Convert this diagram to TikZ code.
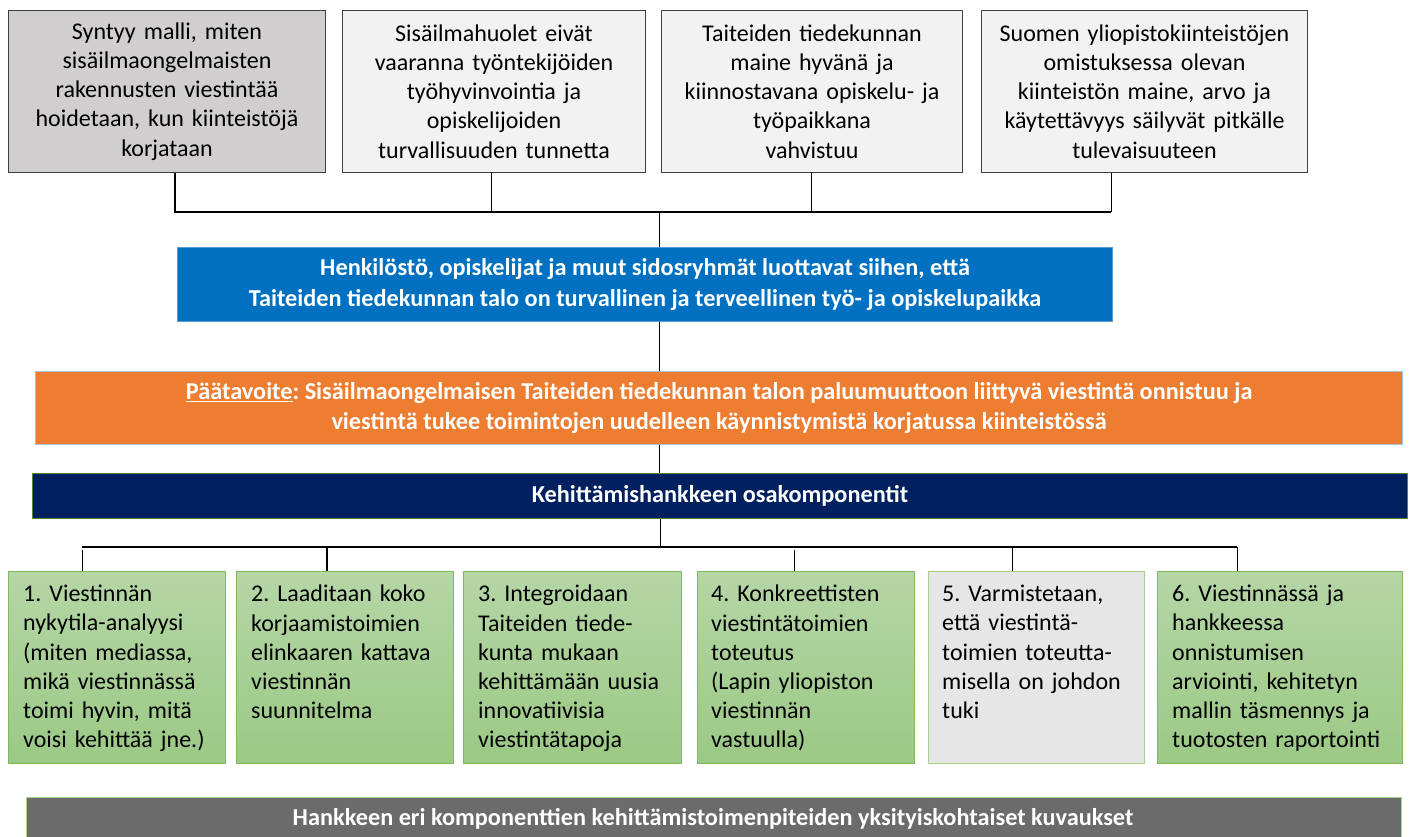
\documentclass[tikz,border=0pt]{standalone}
\usepackage{fontspec}
\setmainfont{Carlito}
\frenchspacing
\definecolor{topgray}{HTML}{D0CECE}
\definecolor{toplight}{HTML}{F2F2F2}
\definecolor{topborder}{HTML}{404040}
\definecolor{bluefill}{HTML}{0070C0}
\definecolor{blueborder}{HTML}{5B9BD5}
\definecolor{orangefill}{HTML}{ED7D31}
\definecolor{orangeborder}{HTML}{9DC3E6}
\definecolor{navyfill}{HTML}{002060}
\definecolor{navyborder}{HTML}{548235}
\definecolor{greentop}{HTML}{B5D6A6}
\definecolor{greenbot}{HTML}{9BC985}
\definecolor{greenborder}{HTML}{7FB95E}
\definecolor{lightgreenborder}{HTML}{A9D18E}
\definecolor{box5fill}{HTML}{E7E6E6}
\definecolor{barfill}{HTML}{6B6B6B}
\tikzset{
  topbox/.style={draw=topborder, line width=1pt, anchor=north west, inner sep=0pt,
    text width=#1-20pt, minimum height=162pt, align=center,
    font=\fontsize{24}{29.2}\selectfont},
  barbox/.style={anchor=north west, inner sep=0pt, line width=1pt, text=white,
    align=center, font=\fontsize{24.3}{30.5}\selectfont\bfseries},
  greenbox/.style={draw=greenborder, line width=1pt, anchor=north west, inner sep=0pt,
    top color=greentop, bottom color=greenbot, minimum width=#1, minimum height=192pt},
  greytext/.style={anchor=north west, inner sep=0pt, text width=#1-24pt, align=left,
    font=\fontsize{24}{29.2}\selectfont},
  thinline/.style={line width=1pt, draw=black},
  thickline/.style={line width=2pt, draw=black}
}
\begin{document}
\begin{tikzpicture}[x=1pt,y=-1pt]
\useasboundingbox (0,0) rectangle (1410,837);
% top boxes
\node[topbox=317pt, fill=topgray, minimum width=317pt] (t1) at (8,10)
  {Syntyy malli, miten\\ sisäilmaongelmaisten\\ rakennusten viestintää\\ hoidetaan, kun kiinteistöjä\\ korjataan};
\node[topbox=303pt, fill=toplight, minimum width=303pt] (t2) at (342,10)
  {Sisäilmahuolet eivät\\ vaaranna työntekijöiden\\ työhyvinvointia ja\\ opiskelijoiden\\ turvallisuuden tunnetta};
\node[topbox=301pt, fill=toplight, minimum width=301pt] (t3) at (661,10)
  {Taiteiden tiedekunnan\\ maine hyvänä ja\\ kiinnostavana opiskelu- ja\\ työpaikkana\\ vahvistuu};
\node[topbox=326pt, fill=toplight, minimum width=326pt] (t4) at (981,10)
  {Suomen yliopistokiinteistöjen\\ omistuksessa olevan\\ kiinteistön maine, arvo ja\\ käytettävyys säilyvät pitkälle\\ tulevaisuuteen};
% bars
\node[barbox, fill=bluefill, draw=blueborder, minimum width=935pt, minimum height=74pt] (b) at (177,247)
  {Henkilöstö, opiskelijat ja muut sidosryhmät luottavat siihen, että\\ Taiteiden tiedekunnan talo on turvallinen ja terveellinen työ- ja opiskelupaikka};
\node[barbox, fill=orangefill, draw=orangeborder, minimum width=1367pt, minimum height=73pt] (o) at (35,371)
  {\underline{Päätavoite}: Sisäilmaongelmaisen Taiteiden tiedekunnan talon paluumuuttoon liittyvä viestintä onnistuu ja\\ viestintä tukee toimintojen uudelleen käynnistymistä korjatussa kiinteistössä};
\node[barbox, fill=navyfill, draw=navyborder, minimum width=1375pt, minimum height=45pt] (n) at (32,473)
  {Kehittämishankkeen osakomponentit};
\node[barbox, fill=barfill, draw=lightgreenborder, minimum width=1375pt, minimum height=60pt, anchor=north west] (h) at (26,797) {};
\node[text=white, font=\fontsize{24.3}{28}\selectfont\bfseries, inner sep=0pt] (ht) at (713,819)
  {Hankkeen eri komponenttien kehittämistoimenpiteiden yksityiskohtaiset kuvaukset};
% green boxes
\node[greenbox=217pt] (g1) at (8,571) {};
\node[greenbox=217pt] (g2) at (236,571) {};
\node[greenbox=218pt] (g3) at (463,571) {};
\node[greenbox=217pt] (g4) at (697,571) {};
\node[greenbox=216pt, fill=box5fill, draw=lightgreenborder, top color=box5fill, bottom color=box5fill] (g5) at (928,571) {};
\node[greenbox=245pt] (g6) at (1157,571) {};
\node[greytext=217pt] (g1t) at ([xshift=15pt,yshift=-14pt]g1.north west)
  {1. Viestinnän\\ nykytila-analyysi\\ (miten mediassa,\\ mikä viestinnässä\\ toimi hyvin, mitä\\ voisi kehittää jne.)};
\node[greytext=217pt] (g2t) at ([xshift=15pt,yshift=-14pt]g2.north west)
  {2. Laaditaan koko\\ korjaamistoimien\\ elinkaaren kattava\\ viestinnän\\ suunnitelma};
\node[greytext=218pt] (g3t) at ([xshift=15pt,yshift=-14pt]g3.north west)
  {3. Integroidaan\\ Taiteiden tiede-\\ kunta mukaan\\ kehittämään uusia\\ innovatiivisia\\ viestintätapoja};
\node[greytext=217pt] (g4t) at ([xshift=14pt,yshift=-14pt]g4.north west)
  {4. Konkreettisten\\ viestintätoimien\\ toteutus\\ (Lapin yliopiston\\ viestinnän\\ vastuulla)};
\node[greytext=216pt] (g5t) at ([xshift=14pt,yshift=-14pt]g5.north west)
  {5. Varmistetaan,\\ että viestintä-\\ toimien toteutta-\\ misella on johdon\\ tuki};
\node[greytext=245pt] (g6t) at ([xshift=15pt,yshift=-14pt]g6.north west)
  {6. Viestinnässä ja\\ hankkeessa\\ onnistumisen\\ arviointi, kehitetyn\\ mallin täsmennys ja\\ tuotosten raportointi};
% top connectors
\coordinate (c1) at (175,212);
\coordinate (c2) at (491,212);
\coordinate (c3) at (811,212);
\coordinate (c4) at (1111,212);
\coordinate (ct) at (659,212);
\draw[thickline] (t1.south -| c1) -- (c1) -- (c4);
\draw[thinline] (t2.south -| c2) -- (c2);
\draw[thinline] (t3.south -| c3) -- (c3);
\draw[thinline] (t4.south -| c4) -- (c4);
\draw[thinline] (ct) -- (b.north -| ct);
\draw[thinline] (b.south -| ct) -- (o.north -| ct);
\draw[thinline] (o.south -| ct) -- (n.north -| ct);
% lower connectors
\coordinate (d0) at (660,547);
\coordinate (d1) at (82,547);
\coordinate (d2) at (327,547);
\coordinate (d4) at (794,547);
\coordinate (d5) at (1012,547);
\coordinate (d6) at (1237,547);
\draw[thinline] (n.south -| d0) -- (d0);
\draw[line width=1.3pt] (d1) -- (d6);
\draw[thinline] ([yshift=-3pt]d1) -- (g1.north -| d1);
\draw[thickline] (d2) -- (g2.north -| d2);
\draw[thinline] ([yshift=-3pt]d4) -- (g4.north -| d4);
\draw[thinline] (d5) -- (g5.north -| d5);
\draw[thinline] (d6) -- (g6.north -| d6);
\end{tikzpicture}
\end{document}
